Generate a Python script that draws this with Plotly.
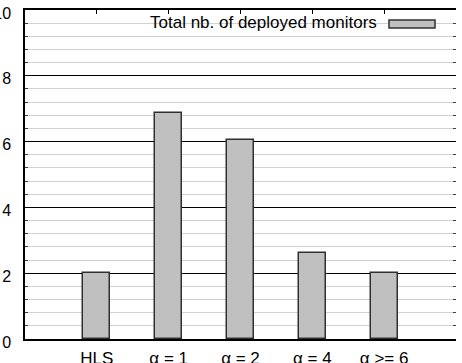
import plotly.graph_objects as go

categories = ["HLS", "α = 1", "α = 2", "α = 4", "α >= 6"]
positions = [1, 2, 3, 4, 5]
values = [2.0, 6.87, 6.05, 2.6, 2.0]
series_name = "Total nb. of deployed monitors"
y_ticks = [0, 2, 4, 6, 8, 10]

W, H = 462, 363
ML, MR, MT, MB = 25, 6, 10, 24
FONT = "Liberation Sans, Arial, Helvetica, sans-serif"
BAR_FILL = "#c0c0c0"
BAR_LINE = "#303030"

fig = go.Figure()
fig.add_trace(go.Bar(
    x=positions, y=values, name=series_name, width=0.375,
    marker=dict(color=BAR_FILL, line=dict(color=BAR_LINE, width=1.5)),
    showlegend=False,
))
# invisible trace to activate the secondary axes (mirrored ticks)
fig.add_trace(go.Scatter(x=[None], y=[None], xaxis="x2", yaxis="y2", showlegend=False))

fig.update_layout(
    width=W, height=H,
    margin=dict(l=ML, r=MR, t=MT, b=MB, pad=0),
    paper_bgcolor="white", plot_bgcolor="white",
    font=dict(family=FONT, size=16, color="black"),
    bargap=0,
    xaxis=dict(
        range=[0, 6], tickmode="array", tickvals=positions, ticktext=categories,
        showgrid=False, zeroline=False, showline=True, linecolor="black", linewidth=1.5,
        ticks="", ticklabelstandoff=3, tickfont=dict(size=17), automargin=False,
    ),
    xaxis2=dict(
        range=[0, 6], overlaying="x", side="top", anchor="y",
        tickmode="array", tickvals=positions, showticklabels=False,
        ticks="inside", ticklen=4, tickcolor="black", tickwidth=1,
        showgrid=False, zeroline=False, showline=True, linecolor="black", linewidth=1.5,
        automargin=False,
    ),
    yaxis=dict(
        range=[0, 10], tickmode="array", tickvals=y_ticks,
        showgrid=True, gridcolor="black", gridwidth=1,
        zeroline=False, showline=True, linecolor="black", linewidth=1.5,
        ticks="inside", ticklen=4, tickcolor="black",
        ticklabelstandoff=9, ticklabelshift=3, tickfont=dict(size=16), automargin=False,
        minor=dict(dtick=0.4, showgrid=True, gridcolor="#d2d2d2", gridwidth=1,
                   ticks="inside", ticklen=3, tickcolor="#404040"),
    ),
    yaxis2=dict(
        range=[0, 10], overlaying="y", side="right", anchor="x",
        tickmode="array", tickvals=y_ticks, showticklabels=False,
        showgrid=False, zeroline=False, showline=False, automargin=False,
        ticks="inside", ticklen=4, tickcolor="black",
        minor=dict(dtick=0.4, ticks="inside", ticklen=3, tickcolor="#404040"),
    ),
)

pw = W - ML - MR
ph = H - MT - MB
def px(x):
    return (x - ML) / pw
def py(y):
    return (H - MB - y) / ph

# legend box (white background, text, sample)
fig.add_shape(type="rect", xref="paper", yref="paper",
              x0=px(67), x1=px(446), y0=py(31), y1=py(11),
              fillcolor="white", line=dict(width=0), layer="between")
fig.add_shape(type="rect", xref="paper", yref="paper",
              x0=px(389), x1=px(435), y0=py(28), y1=py(20),
              fillcolor=BAR_FILL, line=dict(color=BAR_LINE, width=1.5), layer="above")
fig.add_annotation(xref="paper", yref="paper", x=px(379), y=py(22),
                   text=series_name, showarrow=False, xanchor="right", yanchor="middle",
                   font=dict(family=FONT, size=17, color="black"))

fig.write_html("out.html")
